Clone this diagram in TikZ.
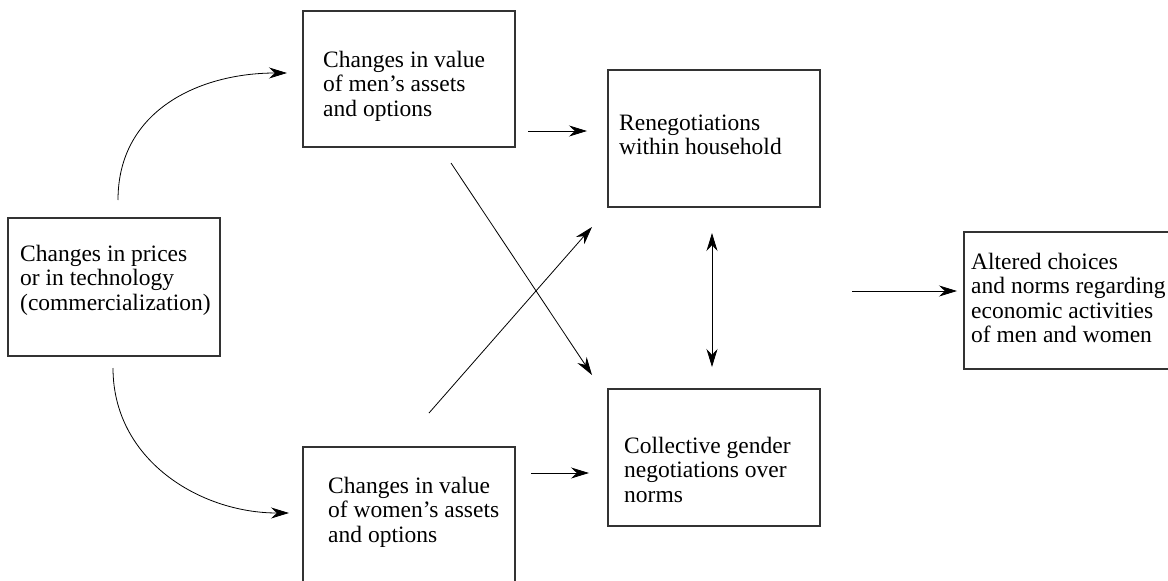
\documentclass[tikz,border=0pt]{standalone}
\usepackage{fontspec}
\setmainfont{Liberation Serif}
\usetikzlibrary{arrows.meta}
\newcommand\mylines[1]{\begin{tabular}[t]{@{}l@{}}#1\end{tabular}}
\begin{document}
\begin{tikzpicture}[x=1pt,y=-1pt,
  box/.style={draw=black!80, line width=1.1pt, inner sep=0pt, minimum width=212pt},
  txt/.style={anchor=base west, inner sep=0pt, font=\fontsize{23.5}{24.5}\selectfont},
  arr/.style={line width=0.8pt, -{Stealth[length=18pt,width=11pt]}},
  darr/.style={line width=0.8pt, {Stealth[length=18pt,width=11pt]}-{Stealth[length=18pt,width=11pt]}}]
\useasboundingbox (0,0) rectangle (1168,581);
\clip (0,0) rectangle (1168,581);
% boxes
\node[box, minimum height=138pt] (left) at (114,287) {};
\node[box, minimum height=136pt] (men) at (409,79) {};
\node[box, minimum height=153pt] (women) at (409,523.5) {};
\node[box, minimum height=137pt] (reneg) at (714,138.5) {};
\node[box, minimum height=137pt] (coll) at (714,457.5) {};
\node[box, minimum width=216pt, minimum height=137pt] (alt) at (1072,300.5) {};
% texts
\node[txt] (lefttxt) at (20,261) {\mylines{Changes in prices\\or in technology\\(commercialization)}};
\node[txt] (mentxt) at (323,67) {\mylines{Changes in value\\of men’s assets\\and options}};
\node[txt] (womentxt) at (328,493) {\mylines{Changes in value\\of women’s assets\\and options}};
\node[txt] (renegtxt) at (619,130) {\mylines{Renegotiations\\within household}};
\node[txt] (colltxt) at (624,453) {\mylines{Collective gender\\negotiations over\\norms}};
\node[txt] (alttxt) at (971,269) {\mylines{Altered choices\\and norms regarding\\economic activities\\of men and women}};
% connector end points
\coordinate (c1s) at (118,200);
\coordinate (c1e) at (287,73);
\coordinate (c2s) at (113,368);
\coordinate (c2e) at (289,513);
\coordinate (mrs) at (528,131);
\coordinate (mre) at (587,131);
\coordinate (wcs) at (531,473);
\coordinate (wce) at (589,473);
\coordinate (mcs) at (451,163);
\coordinate (mce) at (592,375);
\coordinate (wrs) at (429,413);
\coordinate (wre) at (592,227);
\coordinate (rca) at (712,233);
\coordinate (rcb) at (712,367);
\coordinate (oas) at (852,291);
\coordinate (oae) at (957,291);
% connectors
\draw[arr] (c1s) .. controls +(0,-90) and +(-87,0) .. (c1e);
\draw[arr] (c2s) .. controls +(0,92) and +(-89,0) .. (c2e);
\draw[arr] (mrs) -- (mre);
\draw[arr] (wcs) -- (wce);
\draw[arr] (mcs) -- (mce);
\draw[arr] (wrs) -- (wre);
\draw[darr] (rca) -- (rcb);
\draw[arr] (oas) -- (oae);
\end{tikzpicture}
\end{document}
